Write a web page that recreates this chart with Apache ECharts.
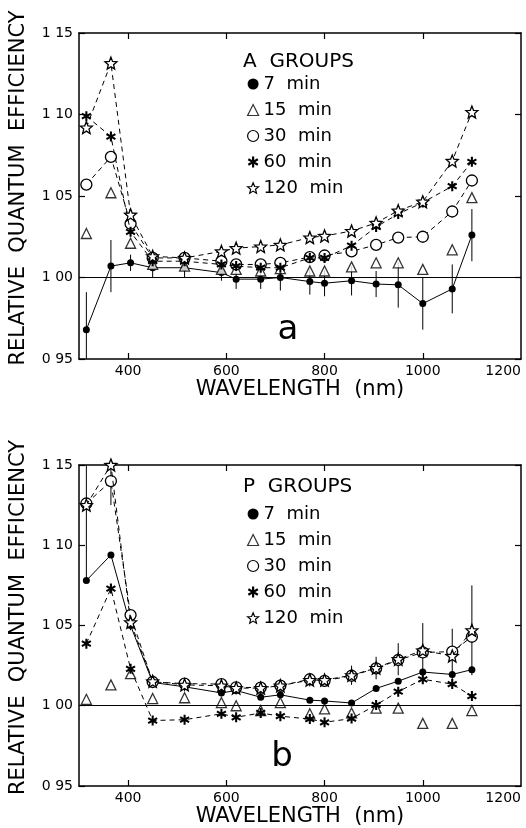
<!DOCTYPE html>
<html>
<head>
<meta charset="utf-8">
<script src="https://cdn.jsdelivr.net/npm/echarts@6/dist/echarts.min.js"></script>
<style>
html, body { margin: 0; padding: 0; background: #fff; }
#chart { width: 526px; height: 828px; }
</style>
</head>
<body>
<div id="chart"></div>
<script>
const wavelengths = [315, 365, 405, 450, 515, 590, 620, 670, 710, 770, 800, 855, 905, 950, 1000, 1060, 1100]
const groupNames = ['7  min', '15  min', '30  min', '60  min', '120  min']
const xTicks = [400, 600, 800, 1000]
const xLabels = [400, 600, 800, 1000, 1200]

/** A groups */
const a7 = [0.968, 1.007, 1.009, 1.006, 1.006, 1.003, 0.999, 0.999, 1.000, 0.9975, 0.9965, 0.998, 0.996, 0.9955, 0.984, 0.993, 1.026]
const a7Err = [0.023, 0.016, 0.005, 0.006, 0.006, 0.005, 0.006, 0.006, 0.008, 0.008, 0.008, 0.009, 0.008, 0.014, 0.016, 0.015, 0.016]
const a15 = [1.027, 1.052, 1.021, 1.008, 1.007, 1.005, 1.005, 1.004, 1.0055, 1.004, 1.004, 1.0065, 1.009, 1.009, 1.005, 1.017, 1.049]
const a30 = [1.057, 1.074, 1.033, 1.012, 1.012, 1.010, 1.008, 1.008, 1.009, 1.0125, 1.0135, 1.016, 1.020, 1.0245, 1.025, 1.0405, 1.0595]
const a60 = [1.099, 1.0865, 1.028, 1.010, 1.010, 1.008, 1.007, 1.006, 1.006, 1.012, 1.012, 1.0195, 1.031, 1.039, 1.046, 1.056, 1.071]
const a120 = [1.092, 1.1315, 1.0385, 1.013, 1.012, 1.016, 1.018, 1.019, 1.020, 1.0245, 1.0255, 1.0285, 1.0335, 1.041, 1.0465, 1.0715, 1.1015]

/** P groups */
const b7 = [1.078, 1.094, 1.050, 1.0145, 1.0118, 1.008, 1.0095, 1.0053, 1.0068, 1.0035, 1.003, 1.0017, 1.0108, 1.0153, 1.021, 1.0195, 1.0225]
const b15 = [1.004, 1.013, 1.020, 1.0045, 1.005, 1.002, 1.000, 0.997, 1.002, 0.995, 0.998, 0.9955, 0.9985, 0.9985, 0.989, 0.989, 0.997]
const b30 = [1.126, 1.140, 1.0565, 1.0148, 1.0138, 1.0135, 1.0115, 1.0113, 1.0125, 1.0165, 1.0155, 1.0187, 1.0233, 1.0285, 1.0332, 1.0337, 1.043]
const b60 = [1.0387, 1.073, 1.023, 0.9908, 0.9913, 0.995, 0.9928, 0.9955, 0.9935, 0.9917, 0.9897, 0.992, 1.0005, 1.0088, 1.0165, 1.0135, 1.006]
const b120 = [1.125, 1.150, 1.052, 1.0152, 1.013, 1.0125, 1.011, 1.011, 1.0125, 1.016, 1.016, 1.019, 1.0235, 1.029, 1.0345, 1.031, 1.047]
const b120Err = [0.045, 0.025, 0.005, 0.004, 0.004, 0.004, 0.004, 0.004, 0.004, 0.004, 0.004, 0.006, 0.007, 0.010, 0.017, 0.017, 0.028]

const font = 'DejaVu Sans'
const starPath = 'path://M5 0 L6.293 3.22 L9.755 3.455 L7.092 5.68 L7.939 9.045 L5 7.2 L2.061 9.045 L2.908 5.68 L0.245 3.455 L3.707 3.22 Z'
const asteriskPath = 'path://M4 0 L6 0 L6 10 L4 10 Z M1.17 1.63 L9.83 6.63 L8.83 8.37 L0.17 3.37 Z M0.17 6.63 L8.83 1.63 L9.83 3.37 L1.17 8.37 Z'
const symbols = ['circle', 'triangle', 'circle', asteriskPath, starPath]
const sizes = [7, 10, 11, 10, 12]
const filled = [true, false, false, true, false]
const lineTypes = ['solid', null, [5, 4], [5, 4], [5, 4]]

const makeSeries = (k, values, axisIndex) => {
    let s = {
        name: groupNames[k],
        type: lineTypes[k] ? 'line' : 'scatter',
        xAxisIndex: axisIndex,
        yAxisIndex: axisIndex,
        data: wavelengths.map((w, i) => [w, values[i]]),
        symbol: symbols[k],
        symbolSize: sizes[k],
        itemStyle: { color: filled[k] ? '#000' : '#fff', borderColor: '#000', borderWidth: filled[k] ? 0 : 1.3 },
        z: 3 + k
    }
    if (lineTypes[k]) {
        s.showAllSymbol = true
        s.lineStyle = { color: '#000', width: 1, type: lineTypes[k] }
    }
    if (k === 0) {
        s.markLine = {
            silent: true,
            symbol: 'none',
            label: { show: false },
            lineStyle: { color: '#000', width: 1.2, type: 'solid' },
            data: [{ yAxis: 1 }]
        }
    }
    return s
}

const makeErrorBars = (values, errors, axisIndex) => ({
    type: 'custom',
    xAxisIndex: axisIndex,
    yAxisIndex: axisIndex,
    silent: true,
    z: 2,
    data: wavelengths.map((w, i) => [w, values[i], errors[i]]),
    renderItem: (params, api) => {
        let x = api.value(0), v = api.value(1), e = api.value(2)
        let lo = api.coord([x, Math.max(v - e, 0.95)])
        let hi = api.coord([x, Math.min(v + e, 1.15)])
        return {
            type: 'line',
            shape: { x1: lo[0], y1: lo[1], x2: hi[0], y2: hi[1] },
            style: { stroke: '#000', lineWidth: 1 }
        }
    }
})

const makeXAxis = (gridIndex, position) => ({
    type: 'value',
    gridIndex: gridIndex,
    position: position,
    min: 300,
    max: 1200,
    axisLine: { show: true, onZero: false, lineStyle: { color: '#000', width: 1.5 } },
    axisTick: { show: true, inside: true, length: 6, customValues: xTicks, lineStyle: { color: '#000', width: 1.2 } },
    axisLabel: {
        show: position === 'bottom', customValues: xLabels, margin: 5, alignMaxLabel: 'right',
        color: '#000', fontFamily: font, fontSize: 14,
        formatter: v => String(v)
    },
    splitLine: { show: false },
    name: position === 'bottom' ? 'WAVELENGTH  (nm)' : '',
    nameLocation: 'middle',
    nameGap: 16,
    nameTextStyle: { color: '#000', fontFamily: font, fontSize: 21 }
})

const makeYAxis = (gridIndex, position) => ({
    type: 'value',
    gridIndex: gridIndex,
    position: position,
    min: 0.95,
    max: 1.15,
    interval: 0.05,
    axisLine: { show: true, onZero: false, lineStyle: { color: '#000', width: 1.5 } },
    axisTick: { show: true, inside: true, length: 6, lineStyle: { color: '#000', width: 1.2 } },
    axisLabel: {
        show: position === 'left', margin: 6, color: '#000', fontFamily: font, fontSize: 14,
        formatter: v => v.toFixed(2).replace('.', ' ')
    },
    splitLine: { show: false },
    name: position === 'left' ? 'RELATIVE  QUANTUM  EFFICIENCY' : '',
    nameLocation: 'middle',
    nameGap: 50,
    nameTextStyle: { color: '#000', fontFamily: font, fontSize: 21, padding: [0, 0, 0, 16] }
})

const makeLegend = (top) => ({
    orient: 'vertical',
    left: 242,
    top: top,
    itemWidth: 11,
    itemHeight: 11,
    itemGap: 8,
    selectedMode: false,
    textStyle: { color: '#000', fontFamily: font, fontSize: 18, lineHeight: 18 },
    data: groupNames.map((n, k) => ({
        name: n,
        icon: symbols[k],
        itemStyle: { color: filled[k] ? '#000' : '#fff', borderColor: '#000', borderWidth: filled[k] ? 0 : 1.2 }
    }))
})

let series = []
;[a7, a15, a30, a60, a120].forEach((v, k) => series.push(makeSeries(k, v, 0)))
;[b7, b15, b30, b60, b120].forEach((v, k) => series.push(makeSeries(k, v, 2)))
series.push(makeErrorBars(a7, a7Err, 0))
series.push(makeErrorBars(b120, b120Err, 2))

const option = {
    animation: false,
    backgroundColor: '#fff',
    textStyle: { fontFamily: font },
    grid: [
        { left: 76, right: 5, top: 33, height: 326 },
        { left: 76, right: 5, top: 465, height: 321 }
    ],
    xAxis: [makeXAxis(0, 'bottom'), makeXAxis(0, 'top'), makeXAxis(1, 'bottom'), makeXAxis(1, 'top')],
    yAxis: [makeYAxis(0, 'left'), makeYAxis(0, 'right'), makeYAxis(1, 'left'), makeYAxis(1, 'right')],
    legend: [makeLegend(70), makeLegend(500)],
    graphic: [
        { type: 'text', left: 243, top: 52, style: { text: 'A  GROUPS', fill: '#000', font: '20px "DejaVu Sans"' } },
        { type: 'text', left: 243, top: 477, style: { text: 'P  GROUPS', fill: '#000', font: '20px "DejaVu Sans"' } },
        { type: 'text', x: 288, y: 330, style: { text: 'a', fill: '#000', font: '34px "DejaVu Sans"', align: 'center', verticalAlign: 'middle' } },
        { type: 'text', x: 282, y: 757, style: { text: 'b', fill: '#000', font: '34px "DejaVu Sans"', align: 'center', verticalAlign: 'middle' } }
    ],
    series: series
}

let chart = echarts.init(document.getElementById('chart'))
chart.setOption(option)
</script>
</body>
</html>
